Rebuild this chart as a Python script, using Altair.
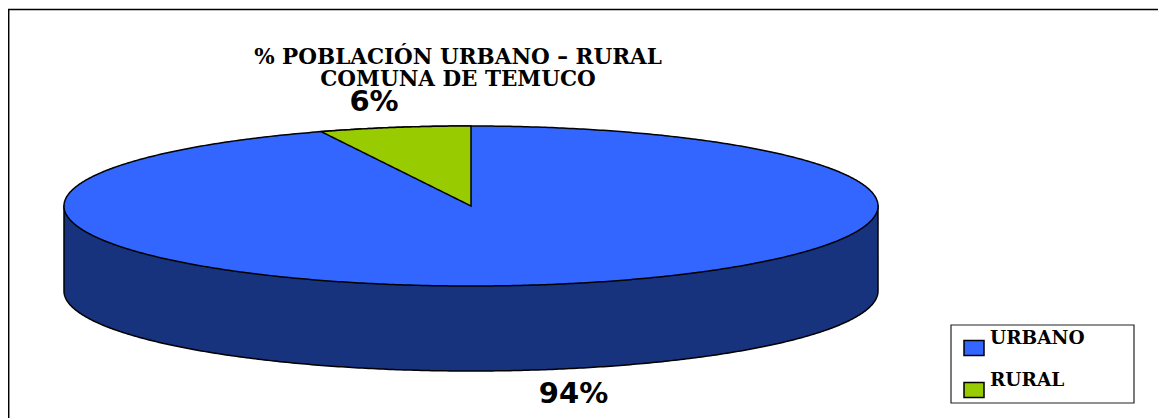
import math
import altair as alt
import numpy as np
import pandas as pd

# Chart content
categories = ["URBANO", "RURAL"]
shares = [94, 6]
colors = ["#3366FF", "#99CC00"]
side_color = "#17337E"
title_lines = ["% POBLACIÓN URBANO – RURAL", "COMUNA DE TEMUCO"]

# Drawing geometry of the tilted pie, in page pixels
CX, CY, RX, RY, DEPTH = 471.0, 206.0, 407.0, 80.0, 85.0
X_DOM = [8, 1158]
Y_DOM = [418, 8]
xs = alt.Scale(domain=X_DOM, range=[0, 1150], nice=False, zero=False)
ys = alt.Scale(domain=Y_DOM, range=[410, 0], nice=False, zero=False)
X = lambda f: alt.X(f, type="quantitative", scale=xs, axis=None)
Y = lambda f: alt.Y(f, type="quantitative", scale=ys, axis=None)

t = np.linspace(math.pi, 0, 361)
ex = CX + RX * np.cos(t)
half = RY * np.sin(t)

side = pd.DataFrame({"x": ex, "y": CY + half + DEPTH, "y2": CY})
top = pd.DataFrame({"x": ex, "y": CY - half, "y2": CY + half, "serie": categories[0]})

theta = 2 * math.pi * shares[1] / sum(shares)
left_x = CX - RX * math.sin(theta)
left_y = CY - RY * math.cos(theta)
wx = np.linspace(left_x, CX, 80)
wedge = pd.DataFrame({
    "x": wx,
    "y": CY - RY * np.sqrt(1 - ((wx - CX) / RX) ** 2),
    "y2": CY + (left_y - CY) * (CX - wx) / (CX - left_x),
    "serie": categories[1],
})

color = alt.Color(
    "serie:N",
    scale=alt.Scale(domain=categories, range=colors),
    legend=alt.Legend(
        title=None, orient="none", legendX=955, legendY=329,
        symbolType="M-1,-0.76H1V0.76H-1Z", symbolSize=400,
        symbolStrokeColor="black", symbolStrokeWidth=1.5,
        symbolOpacity=1, labelFont="DejaVu Serif", labelFontWeight="bold",
        labelFontSize=18.5, labelColor="black", labelOffset=5, rowPadding=12,
        padding=0, labelBaseline="bottom",
    ),
)

side_l = alt.Chart(side).mark_area(fill=side_color, stroke="black", strokeWidth=1.5).encode(
    x=X("x"), y=Y("y"), y2="y2")
top_l = alt.Chart(top).mark_area(stroke="black", strokeWidth=1.5).encode(
    x=X("x"), y=Y("y"), y2="y2", color=color)
wedge_l = alt.Chart(wedge).mark_area(stroke="black", strokeWidth=1.5).encode(
    x=X("x"), y=Y("y"), y2="y2", color=color)

title_df = pd.DataFrame({"text": title_lines, "x": [458, 458], "y": [64, 86]})
title_l = alt.Chart(title_df).mark_text(
    font="DejaVu Serif", fontWeight="bold", fontSize=21.5, color="black",
    align="center", baseline="alphabetic",
).encode(x=X("x"), y=Y("y"), text="text:N")

pct_df = pd.DataFrame({"text": [f"{shares[1]}%", f"{shares[0]}%"], "x": [374, 573.5], "y": [111, 403]})
pct_l = alt.Chart(pct_df).mark_text(
    font="DejaVu Sans", fontWeight="bold", fontSize=29, color="black",
    align="center", baseline="alphabetic",
).encode(x=X("x"), y=Y("y"), text="text:N")

frame_l = alt.Chart(pd.DataFrame({"a": [0]})).mark_rect(
    fill="white", stroke="#222222", strokeWidth=1.2,
).encode(x=alt.value(943), x2=alt.value(1126), y=alt.value(317), y2=alt.value(395))

border = pd.DataFrame({"x": [8.7, 8.7, 1158], "y": [418, 9.5, 9.5], "o": [0, 1, 2]})
border_l = alt.Chart(border).mark_line(color="black", strokeWidth=1.5).encode(
    x=X("x"), y=Y("y"), order="o:O")

chart = alt.layer(
    border_l, side_l, top_l, wedge_l, frame_l, title_l, pct_l
).resolve_scale(x="shared", y="shared").properties(
    width=1150, height=410, padding=0,
    autosize=alt.AutoSizeParams(type="none"),
).configure_view(stroke=None)

chart.save("out.html", embed_options={"renderer": "svg", "actions": False})
